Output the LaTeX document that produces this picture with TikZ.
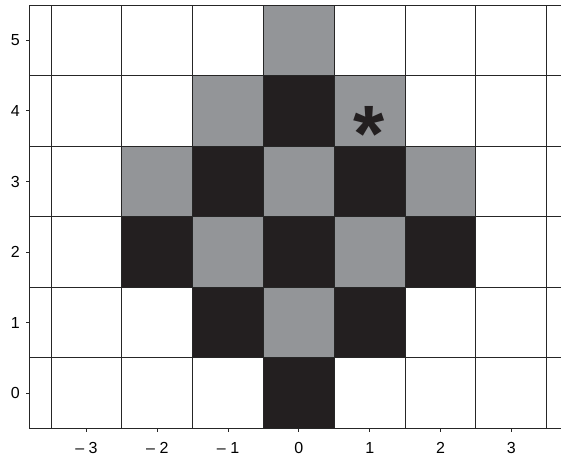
\documentclass[tikz,border=0pt]{standalone}
\usepackage{fontspec}
\setmainfont{Liberation Sans}
\definecolor{cellgray}{RGB}{147,149,152}
\definecolor{cellblack}{RGB}{35,31,32}

\begin{document}
\begin{tikzpicture}[x=53.1pt, y=52.95pt,
  every node/.style={font=\fontsize{12}{14}\selectfont},
  lined/.style={line width=0.75pt, black!85},
  light/.style={fill=cellgray},
  dark/.style={fill=cellblack}]
	\useasboundingbox (-4.222,-0.931) rectangle (3.702,5.571);
	% gray cells
	\fill[light] (-0.5,4.5) rectangle (0.5,5.5);
	\fill[light] (-1.5,3.5) rectangle (-0.5,4.5);
	\fill[light] (0.5,3.5) rectangle (1.5,4.5);
	\fill[light] (-2.5,2.5) rectangle (-1.5,3.5);
	\fill[light] (-0.5,2.5) rectangle (0.5,3.5);
	\fill[light] (1.5,2.5) rectangle (2.5,3.5);
	\fill[light] (-1.5,1.5) rectangle (-0.5,2.5);
	\fill[light] (0.5,1.5) rectangle (1.5,2.5);
	\fill[light] (-0.5,0.5) rectangle (0.5,1.5);
	% black cells
	\fill[dark] (-0.5,3.5) rectangle (0.5,4.5);
	\fill[dark] (-1.5,2.5) rectangle (-0.5,3.5);
	\fill[dark] (0.5,2.5) rectangle (1.5,3.5);
	\fill[dark] (-2.5,1.5) rectangle (-1.5,2.5);
	\fill[dark] (-0.5,1.5) rectangle (0.5,2.5);
	\fill[dark] (1.5,1.5) rectangle (2.5,2.5);
	\fill[dark] (-1.5,0.5) rectangle (-0.5,1.5);
	\fill[dark] (0.5,0.5) rectangle (1.5,1.5);
	\fill[dark] (-0.5,-0.5) rectangle (0.5,0.5);
	% grid and frame
	\draw[lined, step=1, shift={(0.5,0.5)}] (-4,-1) grid (3,5);
	\draw[lined] (-3.805,-0.5) -- (3.702,-0.5);
	\draw[lined] (-3.805,0.5) -- (3.702,0.5);
	\draw[lined] (-3.805,1.5) -- (3.702,1.5);
	\draw[lined] (-3.805,2.5) -- (3.702,2.5);
	\draw[lined] (-3.805,3.5) -- (3.702,3.5);
	\draw[lined] (-3.805,4.5) -- (3.702,4.5);
	\draw[lined] (-3.805,5.5) -- (3.702,5.5);
	\draw[lined] (-3.805,-0.5) -- (-3.805,5.5);
	% ticks
	\draw[lined] (-3,-0.5) -- ++(0,-2.5pt);
	\draw[lined] (-2,-0.5) -- ++(0,-2.5pt);
	\draw[lined] (-1,-0.5) -- ++(0,-2.5pt);
	\draw[lined] (0,-0.5) -- ++(0,-2.5pt);
	\draw[lined] (1,-0.5) -- ++(0,-2.5pt);
	\draw[lined] (2,-0.5) -- ++(0,-2.5pt);
	\draw[lined] (3,-0.5) -- ++(0,-2.5pt);
	\draw[lined] (-3.805,0) -- ++(-3pt,0);
	\draw[lined] (-3.805,1) -- ++(-3pt,0);
	\draw[lined] (-3.805,2) -- ++(-3pt,0);
	\draw[lined] (-3.805,3) -- ++(-3pt,0);
	\draw[lined] (-3.805,4) -- ++(-3pt,0);
	\draw[lined] (-3.805,5) -- ++(-3pt,0);
	% axis labels
	\node (xm3) at (-3,-0.775) {– 3};
	\node (xm2) at (-2,-0.775) {– 2};
	\node (xm1) at (-1,-0.775) {– 1};
	\node (x0) at (0,-0.775) {0};
	\node (x1) at (1,-0.775) {1};
	\node (x2) at (2,-0.775) {2};
	\node (x3) at (3,-0.775) {3};
	\node[anchor=east, inner sep=0pt] (y0) at (-3.939,0) {0};
	\node[anchor=east, inner sep=0pt] (y1) at (-3.939,1) {1};
	\node[anchor=east, inner sep=0pt] (y2) at (-3.939,2) {2};
	\node[anchor=east, inner sep=0pt] (y3) at (-3.939,3) {3};
	\node[anchor=east, inner sep=0pt] (y4) at (-3.939,4) {4};
	\node[anchor=east, inner sep=0pt] (y5) at (-3.939,5) {5};
	% marked cell
	\node[anchor=base, inner sep=0pt, font=\fontsize{60}{60}\selectfont\bfseries, cellblack] (star) at (0.99,3.29) {*};
\end{tikzpicture}
\end{document}
